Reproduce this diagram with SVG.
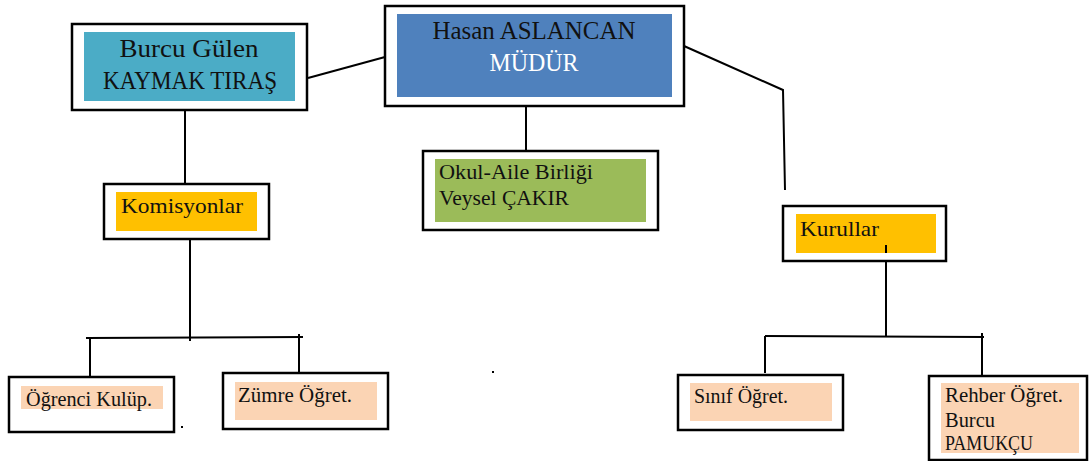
<svg xmlns="http://www.w3.org/2000/svg" width="1089" height="461" viewBox="0 0 1089 461">
<style>
.frame{fill:#fff;stroke:#000;stroke-width:2.5}
.t{font-family:"Liberation Serif","DejaVu Serif",serif;fill:#111}
.big{font-size:26px}
.mid{font-size:20px}
.sm{font-size:20px}
.conn line,.conn polyline{stroke:#000;stroke-width:2;fill:none}
</style>
<rect width="1089" height="461" fill="#fff"/>
<g id="connectors" class="conn">
<line x1="308" y1="78" x2="385" y2="57"/>
<polyline points="684,46 783,90 785,190"/>
<line x1="526" y1="107" x2="526" y2="151"/>
<line x1="185" y1="111" x2="185" y2="184"/>
<line x1="190" y1="240" x2="190" y2="341"/>
<line x1="86" y1="338" x2="303" y2="337"/>
<line x1="90" y1="338" x2="90" y2="377"/>
<line x1="299" y1="334" x2="299" y2="373"/>
<line x1="886" y1="245" x2="886" y2="337"/>
<line x1="765" y1="336" x2="984" y2="337"/>
<line x1="765" y1="336" x2="765" y2="373"/>
<line x1="982" y1="333" x2="982" y2="376"/>
<rect x="492" y="371" width="2" height="2" fill="#000"/>
<rect x="181" y="426" width="2" height="2" fill="#000"/>
</g>
<g id="node-burcu">
<rect class="frame" x="72" y="24" width="235" height="86"/>
<rect x="84" y="32" width="211" height="69" fill="#4BACC6"/>
<text class="t big" x="189" y="57" text-anchor="middle" textLength="139" lengthAdjust="spacingAndGlyphs">Burcu Gülen</text>
<text class="t big" x="190" y="89" text-anchor="middle" textLength="174" lengthAdjust="spacingAndGlyphs">KAYMAK TIRAŞ</text>
</g>
<g id="node-hasan">
<rect class="frame" x="385" y="6" width="299" height="100"/>
<rect x="397" y="14" width="275" height="83" fill="#4F81BD"/>
<text class="t big" x="534" y="39" text-anchor="middle" textLength="203" lengthAdjust="spacingAndGlyphs">Hasan ASLANCAN</text>
<text class="t big" x="534" y="71" text-anchor="middle" textLength="89" lengthAdjust="spacingAndGlyphs" style="fill:#fff">MÜDÜR</text>
</g>
<g id="node-okul">
<rect class="frame" x="423" y="151" width="235" height="79"/>
<rect x="435" y="159" width="211" height="63" fill="#9BBB59"/>
<text class="t mid" x="439" y="179" textLength="154" lengthAdjust="spacingAndGlyphs">Okul-Aile Birliği</text>
<text class="t mid" x="439" y="205" textLength="130" lengthAdjust="spacingAndGlyphs">Veysel ÇAKIR</text>
</g>
<g id="node-komisyonlar">
<rect class="frame" x="104" y="184" width="165" height="55"/>
<rect x="116" y="192" width="141" height="39" fill="#FFC000"/>
<text class="t mid" x="121" y="213" textLength="122" lengthAdjust="spacingAndGlyphs" style="font-size:21px">Komisyonlar</text>
</g>
<g id="node-kurullar">
<rect class="frame" x="783" y="206" width="163" height="55"/>
<rect x="796" y="214" width="140" height="39" fill="#FFC000"/>
<text class="t mid" x="800" y="236" textLength="79" lengthAdjust="spacingAndGlyphs" style="font-size:21px">Kurullar</text>
<line x1="886" y1="245" x2="886" y2="253" stroke="#000" stroke-width="2"/>
</g>
<g id="node-ogrenci">
<rect class="frame" x="9" y="377" width="165" height="55"/>
<rect x="21" y="386" width="142" height="23" fill="#FBD4B4"/>
<text class="t sm" x="26" y="406" textLength="126" lengthAdjust="spacingAndGlyphs">Öğrenci Kulüp.</text>
</g>
<g id="node-zumre">
<rect class="frame" x="223" y="373" width="165" height="56"/>
<rect x="235" y="382" width="142" height="38" fill="#FBD4B4"/>
<text class="t sm" x="238" y="402" textLength="114" lengthAdjust="spacingAndGlyphs">Zümre Öğret.</text>
</g>
<g id="node-sinif">
<rect class="frame" x="678" y="375" width="165" height="55"/>
<rect x="690" y="383" width="142" height="38" fill="#FBD4B4"/>
<text class="t sm" x="694" y="403" textLength="94" lengthAdjust="spacingAndGlyphs">Sınıf Öğret.</text>
</g>
<g id="node-rehber">
<rect class="frame" x="929" y="376" width="158" height="84"/>
<rect x="941" y="383" width="138" height="70" fill="#FBD4B4"/>
<text class="t sm" x="945" y="402" textLength="118" lengthAdjust="spacingAndGlyphs">Rehber Öğret.</text>
<text class="t sm" x="945" y="427" textLength="50" lengthAdjust="spacingAndGlyphs">Burcu</text>
<text class="t sm" x="945" y="450" textLength="88" lengthAdjust="spacingAndGlyphs">PAMUKÇU</text>
</g>
</svg>
